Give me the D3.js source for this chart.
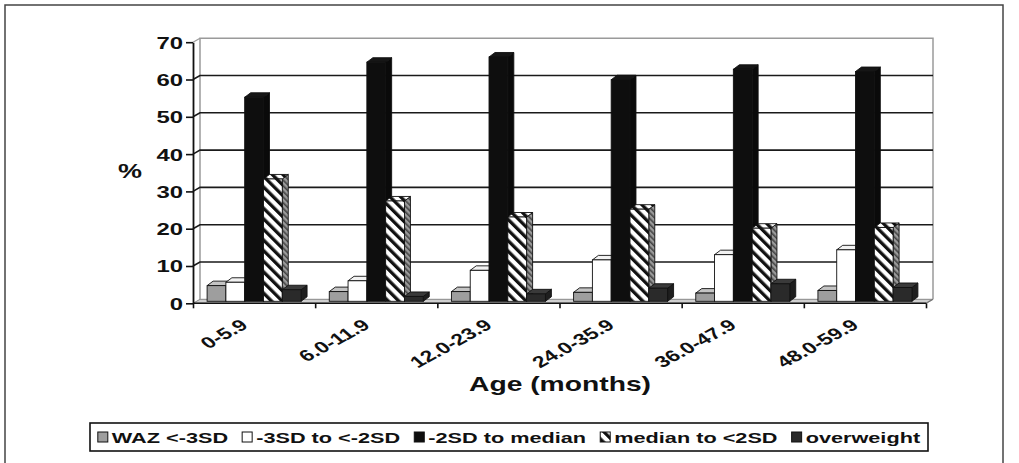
<!DOCTYPE html>
<html>
<head>
<meta charset="utf-8">
<script src="https://cdn.jsdelivr.net/npm/d3@7"></script>
<style>
  html, body { margin: 0; padding: 0; background: #fff; }
  svg { display: block; }
  text { font-family: "Liberation Sans", Arial, sans-serif; font-weight: bold; fill: #111; }
</style>
</head>
<body>
<svg id="chart" width="1019" height="463"></svg>
<script>
// Age groups (months)
const categories = ["0-5.9", "6.0-11.9", "12.0-23.9", "24.0-35.9", "36.0-47.9", "48.0-59.9"];
// Weight-for-age categories, in legend order
const seriesNames = ["WAZ <-3SD", "-3SD to <-2SD", "-2SD to median", "median to <2SD", "overweight"];
// Percentage of children in each category, per age group
const wazBelowMinus3 = [4.2, 2.6, 2.6, 2.4, 2.2, 2.9];
const minus3ToMinus2 = [5.1, 5.5, 8.3, 11.1, 12.5, 13.8];
const minus2ToMedian = [54.7, 64.1, 65.5, 59.4, 62.2, 61.6];
const medianToPlus2 = [32.8, 26.9, 22.6, 24.7, 19.6, 19.8];
const overweight = [3.1, 1.3, 2.0, 3.5, 4.7, 3.7];
const yTicks = [0, 10, 20, 30, 40, 50, 60, 70];

const seriesValues = [wazBelowMinus3, minus3ToMinus2, minus2ToMedian, medianToPlus2, overweight];

const svg = d3.select("#chart");
const defs = svg.append("defs");

// diagonal hatch used by "median to <2SD"
const hatch = defs.append("pattern")
  .attr("id", "hatch").attr("patternUnits", "userSpaceOnUse")
  .attr("width", 7.5).attr("height", 7.5)
  .attr("patternTransform", "rotate(-45)");
hatch.append("rect").attr("width", 7.5).attr("height", 7.5).attr("fill", "#fff");
hatch.append("rect").attr("width", 3.3).attr("height", 7.5).attr("fill", "#111");

const hatchSide = defs.append("pattern")
  .attr("id", "hatchSide").attr("patternUnits", "userSpaceOnUse")
  .attr("width", 4).attr("height", 4)
  .attr("patternTransform", "rotate(-45)");
hatchSide.append("rect").attr("width", 4).attr("height", 4).attr("fill", "#9a9a9a");
hatchSide.append("rect").attr("width", 1.6).attr("height", 4).attr("fill", "#444");

// face fills: front, top, side
const seriesStyle = [
  { front: "#9e9e9e", top: "#c4c4c4", side: "#7a7a7a" },
  { front: "#ffffff", top: "#f2f2f2", side: "#e6e6e6" },
  { front: "#0e0e0e", top: "#161616", side: "#0a0a0a" },
  { front: "url(#hatch)", top: "url(#hatch)", side: "url(#hatchSide)" },
  { front: "#2a2a2a", top: "#3a3a3a", side: "#1e1e1e" }
];

// outer frame
svg.append("rect").attr("x", 5).attr("y", 5).attr("width", 998).attr("height", 475)
  .attr("fill", "none").attr("stroke", "#444").attr("stroke-width", 1.5);

// plot geometry (front plane, oblique depth)
const xLeft = 193, xRight = 926;
const depth = { dx: 7, dy: -4 };
const barDepth = { dx: 6, dy: -4.5 };

const yFront = d3.scaleLinear().domain([0, 70]).range([303.3, 42.2]);
const yWall = d3.scaleLinear().domain([0, 70]).range([299.3, 38.2]);
const yBar = d3.scaleLinear().domain([0, 70]).range([301.3, 40.2]);

const x = d3.scaleBand().domain(categories).range([xLeft, xRight]).padding(0);
const xs = d3.scaleBand().domain(seriesNames).range([0, x.bandwidth()])
  .paddingInner(0).paddingOuter(0.75);
const xEdges = d3.scaleLinear().domain([0, categories.length]).range([xLeft, xRight]);

const plot = svg.append("g");

// floor
plot.append("path")
  .attr("d", `M${xLeft},${yFront(0)} L${xRight},${yFront(0)} L${xRight + depth.dx},${yFront(0) + depth.dy} L${xLeft + depth.dx},${yFront(0) + depth.dy} Z`)
  .attr("fill", "#cfcfcf").attr("stroke", "#888").attr("stroke-width", 1);

// back wall border
const wallL = xLeft + depth.dx, wallR = xRight + depth.dx;
plot.append("path")
  .attr("d", `M${wallL},${yWall(0)} L${wallL},${yWall(70)} L${wallR},${yWall(70)} L${wallR},${yWall(0)}`)
  .attr("fill", "none").attr("stroke", "#9a9a9a").attr("stroke-width", 1.5);
plot.append("line")
  .attr("x1", xLeft).attr("y1", yFront(70)).attr("x2", wallL).attr("y2", yWall(70))
  .attr("stroke", "#9a9a9a").attr("stroke-width", 1.2);

// gridlines across side wall and back wall
plot.append("g").selectAll("path")
  .data(yTicks.filter(v => v > 0 && v < 70))
  .join("path")
  .attr("d", v => `M${xLeft},${yFront(v)} L${wallL},${yWall(v)} L${wallR},${yWall(v)}`)
  .attr("fill", "none").attr("stroke", "#1a1a1a").attr("stroke-width", 1.6);

// 3D bars, drawn left to right so each bar hides its neighbour's side face
const barData = [];
categories.forEach((c, ci) => {
  seriesNames.forEach((s, si) => {
    barData.push({ cat: c, series: s, si: si, value: seriesValues[si][ci] });
  });
});

const bars = plot.append("g").selectAll("g").data(barData).join("g");
bars.each(function(d) {
  const g = d3.select(this);
  const x0 = x(d.cat) + xs(d.series);
  const w = xs.bandwidth();
  const yt = yBar(d.value), yb = yBar(0);
  const st = seriesStyle[d.si];
  const dx = barDepth.dx, dy = barDepth.dy;
  g.append("path")
    .attr("d", `M${x0 + w},${yt} L${x0 + w + dx},${yt + dy} L${x0 + w + dx},${yb + dy} L${x0 + w},${yb} Z`)
    .attr("fill", st.side).attr("stroke", "#111").attr("stroke-width", 0.9).attr("stroke-linejoin", "round");
  g.append("path")
    .attr("d", `M${x0},${yt} L${x0 + dx},${yt + dy} L${x0 + w + dx},${yt + dy} L${x0 + w},${yt} Z`)
    .attr("fill", st.top).attr("stroke", "#111").attr("stroke-width", 0.9).attr("stroke-linejoin", "round");
  g.append("rect")
    .attr("x", x0).attr("y", yt).attr("width", w).attr("height", yb - yt)
    .attr("fill", st.front).attr("stroke", "#111").attr("stroke-width", 0.9);
});

// x axis line and category tick marks
plot.append("line")
  .attr("x1", xLeft).attr("y1", yFront(0)).attr("x2", xRight).attr("y2", yFront(0))
  .attr("stroke", "#111").attr("stroke-width", 1.6);
plot.append("line")
  .attr("x1", xRight).attr("y1", yFront(0)).attr("x2", xRight + depth.dx).attr("y2", yFront(0) + depth.dy)
  .attr("stroke", "#777").attr("stroke-width", 1.2);
plot.append("g")
  .attr("transform", `translate(0,${yFront(0)})`)
  .call(d3.axisBottom(xEdges).ticks(categories.length).tickSize(5).tickSizeOuter(0).tickFormat(""))
  .call(g => g.select(".domain").remove())
  .call(g => g.selectAll("line").attr("stroke", "#111").attr("stroke-width", 1.6));

// category labels, rotated
plot.append("g").selectAll("text")
  .data(categories)
  .join("text")
  .attr("transform", c => `translate(${x(c) + x.bandwidth() / 2 - 5},327) scale(1.42,1) rotate(-38)`)
  .attr("text-anchor", "end")
  .attr("font-size", 16)
  .text(c => c);

// y axis
const yAxisG = plot.append("g")
  .attr("transform", `translate(${xLeft},0)`)
  .call(d3.axisLeft(yFront).tickValues(yTicks).tickSize(7).tickSizeOuter(0));
yAxisG.select(".domain").attr("stroke", "#111").attr("stroke-width", 1.8);
yAxisG.selectAll(".tick line").attr("stroke", "#111").attr("stroke-width", 1.6);
yAxisG.selectAll(".tick text")
  .attr("x", null).attr("dy", "0.36em")
  .attr("transform", "translate(-10,0) scale(1.45,1)")
  .attr("text-anchor", "end")
  .attr("font-size", 16.5)
  .attr("fill", "#111");

// axis titles
svg.append("text")
  .attr("transform", "translate(130,171) scale(1.35,1)")
  .attr("text-anchor", "middle").attr("dy", "0.36em")
  .attr("font-size", 20)
  .text("%");
svg.append("text")
  .attr("transform", "translate(560,391) scale(1.45,1)")
  .attr("text-anchor", "middle")
  .attr("font-size", 19.5)
  .text("Age (months)");

// legend
const legBox = { x: 90, y: 423, w: 838, h: 28 };
svg.append("rect")
  .attr("x", legBox.x).attr("y", legBox.y).attr("width", legBox.w).attr("height", legBox.h)
  .attr("fill", "#fff").attr("stroke", "#111").attr("stroke-width", 1.6);

const legSx = 1.4, legFont = 15.5, sw = 10, swGap = 4, itemGap = 14;
const legG = svg.append("g");
const items = legG.selectAll("g").data(seriesNames).join("g");
const labels = items.append("text")
  .attr("font-size", legFont)
  .attr("dy", "0.36em")
  .text(d => d);
const widths = [];
labels.each(function() { widths.push(this.getComputedTextLength() * legSx); });
const total = d3.sum(widths) + seriesNames.length * (sw + swGap) + (seriesNames.length - 1) * itemGap;
let cursor = legBox.x + (legBox.w - total) / 2;
const cy = legBox.y + legBox.h / 2;
items.each(function(d, i) {
  const g = d3.select(this);
  const st = seriesStyle[i];
  g.insert("rect", "text")
    .attr("x", cursor).attr("y", cy - sw / 2).attr("width", sw).attr("height", sw)
    .attr("fill", st.front).attr("stroke", "#111").attr("stroke-width", 1);
  g.select("text")
    .attr("transform", `translate(${cursor + sw + swGap},${cy}) scale(${legSx},1)`);
  cursor += sw + swGap + widths[i] + itemGap;
});
</script>
</body>
</html>
